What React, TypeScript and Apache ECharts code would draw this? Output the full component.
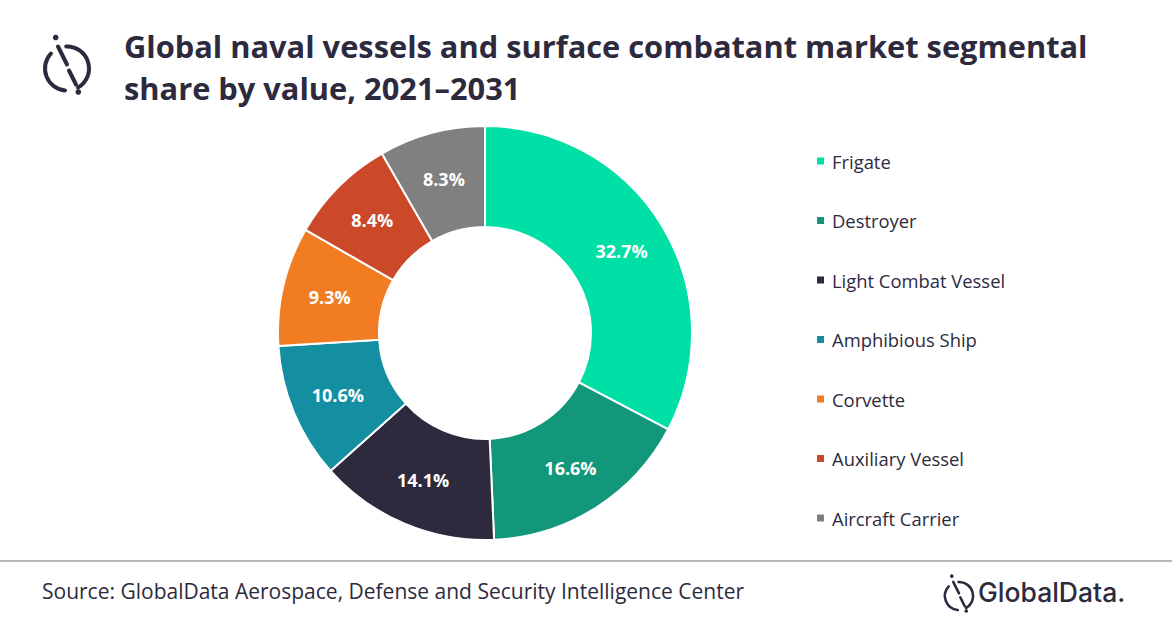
import React, { useEffect, useRef } from 'react';
import * as echarts from 'echarts';

const categories = [
  'Frigate',
  'Destroyer',
  'Light Combat Vessel',
  'Amphibious Ship',
  'Corvette',
  'Auxiliary Vessel',
  'Aircraft Carrier',
];
const shares = [32.7, 16.6, 14.1, 10.6, 9.3, 8.4, 8.3];
const colors = ['#00dfa6', '#13977b', '#2d2a3e', '#138fa1', '#f27c22', '#cb4829', '#808080'];

const TITLE = 'Global naval vessels and surface combatant market segmental\nshare by value, 2021\u20132031';
const SOURCE = 'Source: GlobalData Aerospace, Defense and Security Intelligence Center';
const INK = '#2d2a3e';

const deg = (d: number) => (d * Math.PI) / 180;

// GlobalData mark: broken circle, split slash and two dots
function logoMark(cx: number, cy: number, s: number) {
  const stroke = { stroke: INK, lineWidth: 4 * s, fill: 'none', lineCap: 'round' as const };
  return [
    { type: 'arc', shape: { cx, cy, r: 22 * s, startAngle: deg(95), endAngle: deg(223), clockwise: true }, style: stroke },
    { type: 'arc', shape: { cx, cy, r: 22 * s, startAngle: deg(268), endAngle: deg(420), clockwise: true }, style: stroke },
    { type: 'line', shape: { x1: cx - 9 * s, y1: cy - 22 * s, x2: cx, y2: cy - 4 * s }, style: stroke },
    { type: 'line', shape: { x1: cx + 2 * s, y1: cy + 2 * s, x2: cx + 9 * s, y2: cy + 16 * s }, style: stroke },
    { type: 'circle', shape: { cx: cx - 11.3 * s, cy: cy - 31 * s, r: 2.8 * s }, style: { fill: INK } },
    { type: 'circle', shape: { cx: cx + 11.3 * s, cy: cy + 23.5 * s, r: 2.8 * s }, style: { fill: INK } },
  ];
}

const App: React.FC = () => {
  const chartRef = useRef<HTMLDivElement>(null);

  useEffect(() => {
    if (!chartRef.current) return;
    const chart = echarts.init(chartRef.current, undefined, { renderer: 'svg' });

    chart.setOption({
      animation: false,
      backgroundColor: '#ffffff',
      color: colors,
      legend: {
        orient: 'vertical',
        left: 810,
        top: 146,
        itemWidth: 9,
        itemHeight: 9,
        itemGap: 39.5,
        icon: 'rect',
        selectedMode: false,
        data: categories,
        textStyle: {
          fontFamily: 'Open Sans',
          fontSize: 18.4,
          lineHeight: 20,
          color: INK,
          padding: [0, 0, 0, 2],
        },
      },
      graphic: [
        ...logoMark(67, 68.5, 1),
        {
          type: 'text',
          left: 124,
          top: 25,
          style: {
            text: TITLE,
            font: 'bold 30.8px "Open Sans"',
            fill: INK,
            lineHeight: 42,
          },
        },
        {
          type: 'line',
          shape: { x1: 0, y1: 561, x2: 1172, y2: 561 },
          style: { stroke: '#a0a0a0', lineWidth: 1.5 },
        },
        {
          type: 'text',
          left: 42,
          top: 580,
          style: { text: SOURCE, font: '21px "Open Sans"', fill: INK },
        },
        ...logoMark(959, 596, 0.64),
        {
          type: 'text',
          left: 978,
          top: 578,
          style: { text: 'GlobalData.', font: '500 26.5px Inter', fill: INK },
        },
      ],
      series: [
        {
          type: 'pie',
          center: [485, 333],
          radius: [106, 207],
          startAngle: 90,
          clockwise: true,
          silent: true,
          avoidLabelOverlap: false,
          itemStyle: { borderColor: '#ffffff', borderWidth: 2 },
          label: {
            show: true,
            position: 'inside',
            formatter: '{c}%',
            color: '#ffffff',
            fontFamily: 'Open Sans',
            fontWeight: 'bold',
            fontSize: 18,
          },
          labelLine: { show: false },
          data: categories.map((name, i) => ({ name, value: shares[i] })),
        },
      ],
    });

    return () => {
      chart.dispose();
    };
  }, []);

  return (
    <div
      ref={chartRef}
      style={{ position: 'fixed', left: 0, top: 0, width: '1172px', height: '628px' }}
    ></div>
  );
};

export default App;
